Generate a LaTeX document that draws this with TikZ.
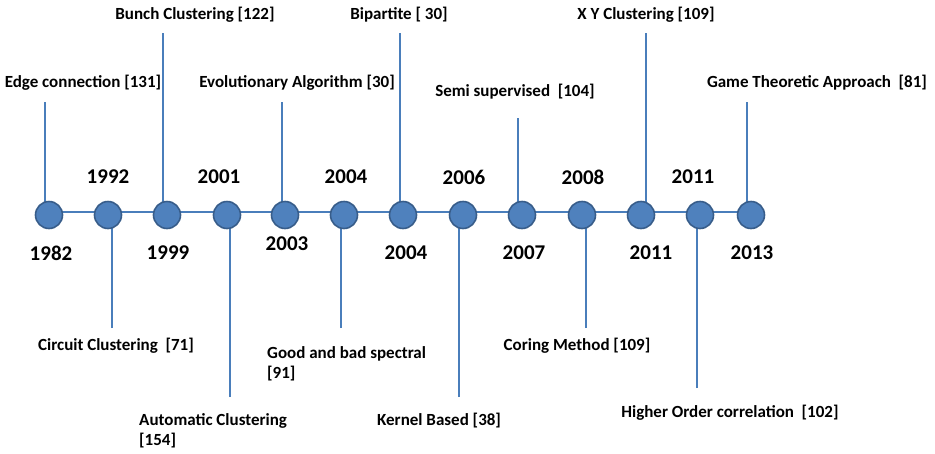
\documentclass[tikz,border=0pt]{standalone}
\usepackage{fontspec}
\setmainfont{Carlito}
\definecolor{lineblue}{HTML}{4A7EBB}
\definecolor{dotfill}{HTML}{4F81BD}
\definecolor{dotedge}{HTML}{385D8A}
\begin{document}
\begin{tikzpicture}[x=1pt,y=-1pt,
  dot/.style={circle,fill=dotfill,draw=dotedge,line width=1.6pt,minimum size=27pt,inner sep=0pt},
  conn/.style={draw=lineblue,line width=2.8pt},
  lbl/.style={font=\fontsize{17}{20}\selectfont\bfseries,inner sep=0pt,text=black},
  yr/.style={font=\fontsize{21}{24}\selectfont\bfseries,inner sep=0pt,text=black}]
\useasboundingbox (0,0) rectangle (935,453);
% circle positions
\coordinate (p1) at (49,215);
\coordinate (p13) at (751,215);
\draw[conn] (49,212) -- (751,212);
% stems (free ends)
\coordinate (t1) at (45,102);
\coordinate (t3) at (163,33);
\coordinate (t5) at (282,102);
\coordinate (t7) at (400,33);
\coordinate (t9) at (518,118);
\coordinate (t11) at (646,33);
\coordinate (t13) at (747,102);
\coordinate (b2) at (112,328);
\coordinate (b4) at (230,397);
\coordinate (b6) at (341,328);
\coordinate (b8) at (459,397);
\coordinate (b10) at (586,328);
\coordinate (b12) at (697,388);
\foreach \t in {t1,t3,t5,t7,t9,t11,t13}{\draw[conn] (\t) -- (\t |- p1);}
\foreach \b in {b2,b4,b6,b8,b10,b12}{\draw[conn] (\b) -- (\b |- p1);}
% dots
\node[dot] (c1) at (49,215) {};
\node[dot] (c2) at (108,215) {};
\node[dot] (c3) at (167,215) {};
\node[dot] (c4) at (227,215) {};
\node[dot] (c5) at (285,215) {};
\node[dot] (c6) at (344,215) {};
\node[dot] (c7) at (403,215) {};
\node[dot] (c8) at (463,215) {};
\node[dot] (c9) at (522,215) {};
\node[dot] (c10) at (582,215) {};
\node[dot] (c11) at (641,215) {};
\node[dot] (c12) at (700,215) {};
\node[dot] (c13) at (751,215) {};
% years above
\node[yr] (y2) at (108,177) {1992};
\node[yr] (y4) at (219,177) {2001};
\node[yr] (y6) at (346,177) {2004};
\node[yr] (y8) at (464,177) {2006};
\node[yr] (y10) at (583,177) {2008};
\node[yr] (y12) at (693,177) {2011};
% years below
\node[yr] (y1) at (51,253) {1982};
\node[yr] (y3) at (168,253) {1999};
\node[yr] (y5) at (287,244) {2003};
\node[yr] (y7) at (406,253) {2004};
\node[yr] (y9) at (524,253) {2007};
\node[yr] (y11) at (651,253) {2011};
\node[yr] (y13) at (752,253) {2013};
% top labels
\node[lbl] (l1) at (83,83) {Edge connection [131]};
\node[lbl] (l3) at (195,15) {Bunch Clustering [122]};
\node[lbl] (l5) at (297,83) {Evolutionary Algorithm [30]};
\node[lbl] (l7) at (399,15) {Bipartite [ 30]};
\node[lbl] (l9) at (515,92) {Semi supervised~ [104]};
\node[lbl] (l11) at (646,15) {X Y Clustering [109]};
\node[lbl] (l13) at (817,83) {Game Theoretic Approach~ [81]};
% bottom labels
\node[lbl] (l2) at (116,346) {Circuit Clustering~ [71]};
\node[lbl,anchor=west] (l4a) at (139,421) {Automatic Clustering};
\node[lbl,anchor=west] (l4b) at (139,441) {[154]};
\node[lbl,anchor=west] (l6a) at (267,354) {Good and bad spectral};
\node[lbl,anchor=west] (l6b) at (267,374) {[91]};
\node[lbl,anchor=west] (l8) at (377,421) {Kernel Based [38]};
\node[lbl] (l10) at (577,346) {Coring Method [109]};
\node[lbl] (l12) at (730,413) {Higher Order correlation~ [102]};
\end{tikzpicture}
\end{document}
